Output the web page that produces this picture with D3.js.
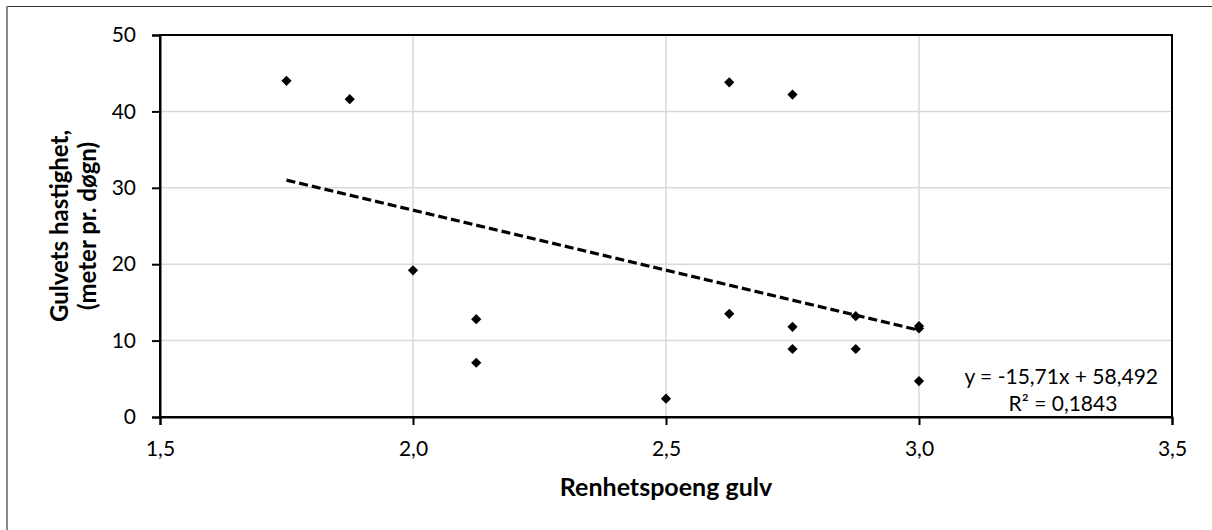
<!DOCTYPE html>
<html>
<head>
<meta charset="utf-8">
<script src="https://cdn.jsdelivr.net/npm/d3@7"></script>
<style>
  body { margin: 0; background: #fff; }
  text { font-family: Lato, "Open Sans", sans-serif; fill: #000; }
</style>
</head>
<body>
<div id="chart"></div>
<script>
// points
const xValues = [1.75, 1.875, 2.0, 2.125, 2.125, 2.5, 2.625, 2.625, 2.75, 2.75, 2.75, 2.875, 2.875, 3.0, 3.0, 3.0];
const yValues = [44.0, 41.6, 19.2, 12.8, 7.1, 2.4, 43.8, 13.5, 42.2, 11.8, 8.9, 13.2, 8.9, 11.9, 11.6, 4.7];

const xTicks = [1.5, 2.0, 2.5, 3.0, 3.5];
const yTicks = [0, 10, 20, 30, 40, 50];

// trendline: y = slope * x + intercept
const trendCoef = [-15.71, 58.492];
const trendLabels = ["y = -15,71x + 58,492", "R² = 0,1843"];

const xTitle = "Renhetspoeng gulv";
const yTitle = ["Gulvets hastighet,", "(meter pr. døgn)"];

const width = 1212, height = 530;
const plot = { left: 160, right: 1172, top: 35, bottom: 417 };

const fmt = d => d3.format(".1f")(d).replace(".", ",");

const svg = d3.select("#chart").append("svg")
    .attr("width", width)
    .attr("height", height);

// outer chart border (only top and left visible)
svg.append("line").attr("x1", 7).attr("x2", width).attr("y1", 6.5).attr("y2", 6.5)
    .attr("stroke", "#333").attr("stroke-width", 1);
svg.append("line").attr("x1", 7).attr("x2", 7).attr("y1", 6).attr("y2", height)
    .attr("stroke", "#888").attr("stroke-width", 2);

const x = d3.scaleLinear().domain([1.5, 3.5]).range([plot.left, plot.right]);
const y = d3.scaleLinear().domain([0, 50]).range([plot.bottom, plot.top]);

// gridlines
svg.append("g")
    .selectAll("line")
    .data(yTicks.slice(1, -1))
    .join("line")
    .attr("x1", plot.left).attr("x2", plot.right)
    .attr("y1", d => y(d)).attr("y2", d => y(d))
    .attr("stroke", "#d9d9d9").attr("stroke-width", 1.5);

svg.append("g")
    .selectAll("line")
    .data(xTicks.slice(1, -1))
    .join("line")
    .attr("x1", d => x(d)).attr("x2", d => x(d))
    .attr("y1", plot.top).attr("y2", plot.bottom)
    .attr("stroke", "#d9d9d9").attr("stroke-width", 1.5);

// plot border
svg.append("rect")
    .attr("x", plot.left).attr("y", plot.top)
    .attr("width", plot.right - plot.left).attr("height", plot.bottom - plot.top)
    .attr("fill", "none").attr("stroke", "#000").attr("stroke-width", 2);

// axes
const xAxis = svg.append("g")
    .attr("transform", `translate(0,${plot.bottom})`)
    .call(d3.axisBottom(x).tickValues(xTicks).tickFormat(fmt).tickSize(8).tickPadding(16));
const yAxis = svg.append("g")
    .attr("transform", `translate(${plot.left},0)`)
    .call(d3.axisLeft(y).tickValues(yTicks).tickSize(8).tickPadding(16));

[xAxis, yAxis].forEach(g => {
    g.select(".domain").attr("stroke", "#000").attr("stroke-width", 2);
    g.selectAll(".tick line").attr("stroke", "#000").attr("stroke-width", 2);
    g.selectAll(".tick text")
        .attr("font-family", "Lato, sans-serif")
        .attr("font-size", 21)
        .attr("fill", "#000");
});

// trendline over the data range
const trendX = d3.extent(xValues);
svg.append("path")
    .datum(trendX)
    .attr("d", d3.line()
        .x(d => x(d))
        .y(d => y(trendCoef[0] * d + trendCoef[1])))
    .attr("fill", "none")
    .attr("stroke", "#000")
    .attr("stroke-width", 3.2)
    .attr("stroke-dasharray", "9,4");

// points
const diamond = d3.symbol(d3.symbolSquare, 52);
svg.append("g")
    .selectAll("path")
    .data(xValues.map((d, i) => [d, yValues[i]]))
    .join("path")
    .attr("d", diamond)
    .attr("transform", d => `translate(${x(d[0])},${y(d[1])}) rotate(45)`)
    .attr("fill", "#000");

// equation labels
svg.append("text")
    .attr("x", 1158).attr("y", 384)
    .attr("text-anchor", "end")
    .attr("font-size", 21)
    .text(trendLabels[0]);
svg.append("text")
    .attr("x", 1063).attr("y", 411)
    .attr("text-anchor", "middle")
    .attr("font-size", 21)
    .text(trendLabels[1]);

// axis titles
svg.append("text")
    .attr("x", (plot.left + plot.right) / 2)
    .attr("y", 496)
    .attr("text-anchor", "middle")
    .attr("font-size", 25)
    .attr("font-weight", "bold")
    .text(xTitle);

const yt = svg.append("text")
    .attr("transform", `translate(68,${(plot.top + plot.bottom) / 2}) rotate(-90)`)
    .attr("text-anchor", "middle")
    .attr("font-size", 24)
    .attr("font-weight", "bold");
yTitle.forEach((t, i) => {
    yt.append("tspan").attr("x", 0).attr("dy", i === 0 ? 0 : 28).text(t);
});
</script>
</body>
</html>
